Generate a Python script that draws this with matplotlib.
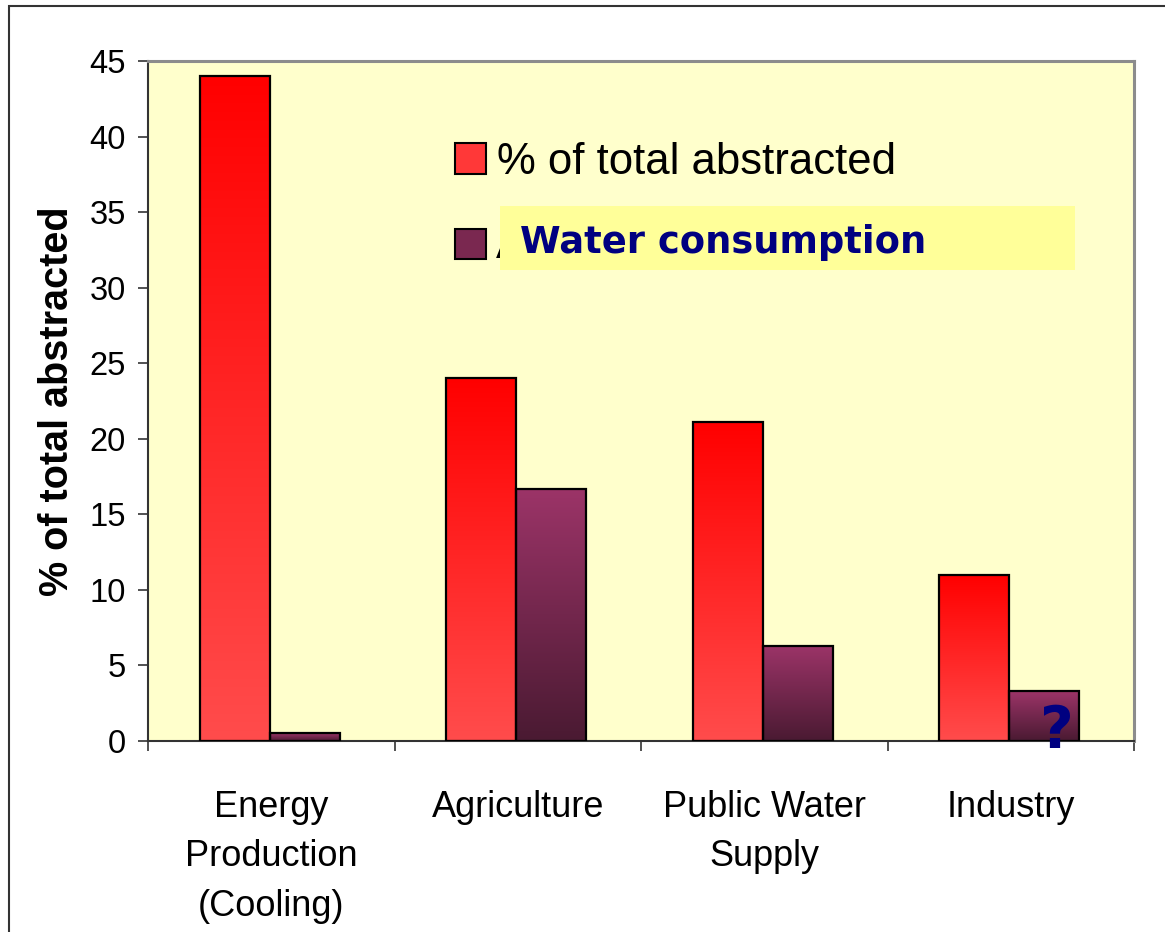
import numpy as np
import matplotlib
matplotlib.use("Agg")
import matplotlib.pyplot as plt
from matplotlib.patches import Rectangle
from matplotlib.colors import to_rgb

categories = ["Energy\nProduction\n(Cooling)", "Agriculture", "Public Water\nSupply", "Industry"]
abstracted = [44.0, 24.0, 21.1, 11.0]
consumed = [0.5, 16.7, 6.3, 3.3]
yticks = [0, 5, 10, 15, 20, 25, 30, 35, 40, 45]
legend_labels = ["% of total abstracted", "Amount consumed"]

plt.rcParams['font.family'] = ['Liberation Sans', 'DejaVu Sans']

W, H = 1165, 932
fig = plt.figure(figsize=(W / 100, H / 100), dpi=100)
fig.patch.set_facecolor('white')
ax = fig.add_axes([148 / W, 1 - 741 / H, (1134 - 148) / W, (741 - 61) / H])
ax.set_facecolor('#ffffcc')

x = np.arange(len(categories))
bw = 0.284
shift = -0.006
b1 = ax.bar(x - bw / 2 + shift, abstracted, bw, facecolor='none', edgecolor='black', linewidth=1.6, zorder=3)
b2 = ax.bar(x + bw / 2 + shift, consumed, bw, facecolor='none', edgecolor='black', linewidth=1.6, zorder=3)


def gradient(top, bottom, n=256):
    t = np.linspace(0, 1, n)[:, None]
    c0 = np.array(to_rgb(top))
    c1 = np.array(to_rgb(bottom))
    return (c0 * (1 - t) + c1 * t)[:, None, :]


red_grad = gradient('#ff0000', '#ff4c4c')
pur_grad = gradient('#9c3468', '#4a1a32')
for bars, grad in ((b1, red_grad), (b2, pur_grad)):
    for p in bars:
        x0, y0, w, h = p.get_x(), p.get_y(), p.get_width(), p.get_height()
        im = ax.imshow(grad, extent=(x0, x0 + w, y0, y0 + h), aspect='auto',
                       origin='upper', zorder=2, interpolation='bilinear')
        im.set_clip_path(p)

ax.set_xlim(-0.5, len(categories) - 0.5)
ax.set_ylim(0, 45)
ax.set_yticks(yticks)
ax.tick_params(axis='y', direction='out', length=7, width=1.2, color='#333333',
               labelsize=23.5, pad=9)
ax.set_xticks(np.arange(len(categories) + 1) - 0.5)
ax.set_xticklabels([])
ax.tick_params(axis='x', which='major', direction='out', length=7, width=1.2, color='#333333')
ax.set_xticks(x, minor=True)
ax.set_xticklabels(categories, minor=True, fontsize=26, linespacing=1.55)
ax.tick_params(axis='x', which='minor', length=0, pad=35)

for s in ('left', 'bottom'):
    ax.spines[s].set_color('#333333')
    ax.spines[s].set_linewidth(1.5)
for s in ('top', 'right'):
    ax.spines[s].set_color('#8c8c8c')
    ax.spines[s].set_linewidth(2.2)

ax.set_ylabel("% of total abstracted", fontsize=28.5, fontweight='bold')
ax.yaxis.set_label_coords((76 - 148) / (1134 - 148), 0.5)

# legend (manual)
def fx(px):
    return px / W


def fy(py):
    return 1 - py / H


fig.patches.append(Rectangle((fx(455), fy(174)), 31 / W, 31 / H, transform=fig.transFigure,
                             facecolor='#ff3838', edgecolor='black', linewidth=1.5, zorder=5))
fig.patches.append(Rectangle((fx(455), fy(259)), 31 / W, 30 / H, transform=fig.transFigure,
                             facecolor='#7a2850', edgecolor='black', linewidth=1.5, zorder=5))
fig.text(fx(497), fy(174), legend_labels[0], fontsize=31.5, va='baseline', ha='left', zorder=6)
fig.text(fx(496), fy(258), legend_labels[1], fontsize=31.5, va='baseline', ha='left', zorder=6)
fig.patches.append(Rectangle((fx(500), fy(270)), (1075 - 500) / W, 64 / H, transform=fig.transFigure,
                             facecolor='#ffff99', edgecolor='none', zorder=7))
fig.text(fx(520), fy(253), "Water consumption", fontsize=26.6, fontweight='bold', color='#000080',
         family='DejaVu Sans', va='baseline', ha='left', zorder=8)

# question mark on industry consumption bar
ax.text(x[3] + bw / 2 + shift + 0.05, -0.46, "?", fontsize=42, fontweight='bold', color='#000080',
        family='DejaVu Sans', ha='center', va='baseline', zorder=9, clip_on=False)

# figure frame
fig.patches.append(Rectangle((fx(9), -0.05), 1.2, fy(6) + 0.05, transform=fig.transFigure,
                             facecolor='none', edgecolor='#333333', linewidth=1.5, zorder=10))

fig.savefig("out.png", dpi=100)
